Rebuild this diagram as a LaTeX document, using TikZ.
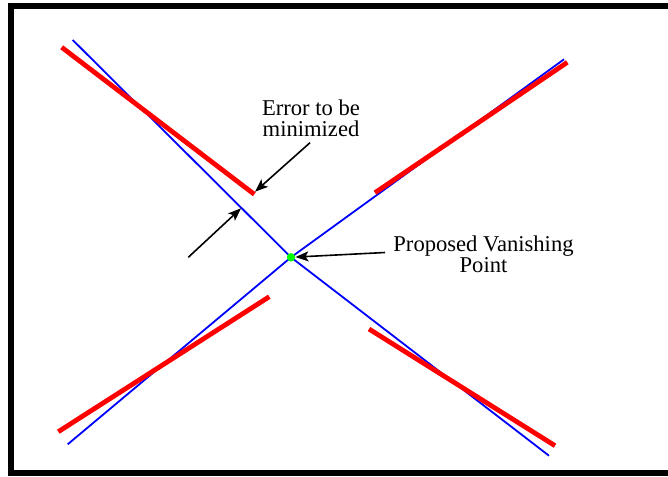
\documentclass[tikz,border=0pt]{standalone}
\usepackage{fontspec}
\setmainfont{Liberation Serif}
\usetikzlibrary{arrows.meta}
\begin{document}
\begin{tikzpicture}[x=1pt,y=-1pt,
  frame/.style={line width=6pt,black},
  ray/.style={line width=1.8pt,blue},
  seg/.style={line width=4.8pt,red},
  pointer/.style={line width=1.6pt,black,-{Stealth[length=13pt,width=10pt,inset=3pt]}},
  lbl/.style={font=\fontsize{22.6}{21.2}\selectfont,align=center,inner sep=0pt}]
\useasboundingbox (0,0) rectangle (668,476);
\clip (0,0) rectangle (668,476);
\fill[white] (0,0) rectangle (668,476);
\draw[frame] (11,6.5) rectangle (700,473);
% vanishing point
\coordinate (vp) at (291,257.3);
% blue ray ends
\coordinate (b1) at (72.7,40);
\coordinate (b2) at (549,455.7);
\coordinate (b3) at (67.7,444.3);
\coordinate (b4) at (564,59.3);
\draw[ray] (vp) -- (b1);
\draw[ray] (vp) -- (b2);
\draw[ray] (vp) -- (b3);
\draw[ray] (vp) -- (b4);
% red segments
\coordinate (r1a) at (61.7,47.3);  \coordinate (r1b) at (254.3,194.3);
\coordinate (r2a) at (375,192.7);  \coordinate (r2b) at (567.3,62.3);
\coordinate (r3a) at (58.3,431.7); \coordinate (r3b) at (269.3,296.7);
\coordinate (r4a) at (369,329);    \coordinate (r4b) at (555,445.7);
\draw[seg] (r1a) -- (r1b);
\draw[seg] (r2a) -- (r2b);
\draw[seg] (r3a) -- (r3b);
\draw[seg] (r4a) -- (r4b);
% green point
\node[circle,fill=green,inner sep=0pt,minimum size=8.5pt] (vpdot) at (vp) {};
% labels
\node[lbl] (err) at (311,118.3) {Error to be\\minimized};
\node[lbl] (pvp) at (483.5,254) {Proposed Vanishing\\Point};
% arrows
\coordinate (e1) at (310,142.7);
\coordinate (e2) at (255,191.7);
\coordinate (f1) at (188.3,257.3);
\coordinate (f2) at (241,208.3);
\coordinate (p1) at (385,252.5);
\draw[pointer] (e1) -- (e2);
\draw[pointer] (f1) -- (f2);
\draw[pointer] (p1) -- (vpdot);
\end{tikzpicture}
\end{document}
